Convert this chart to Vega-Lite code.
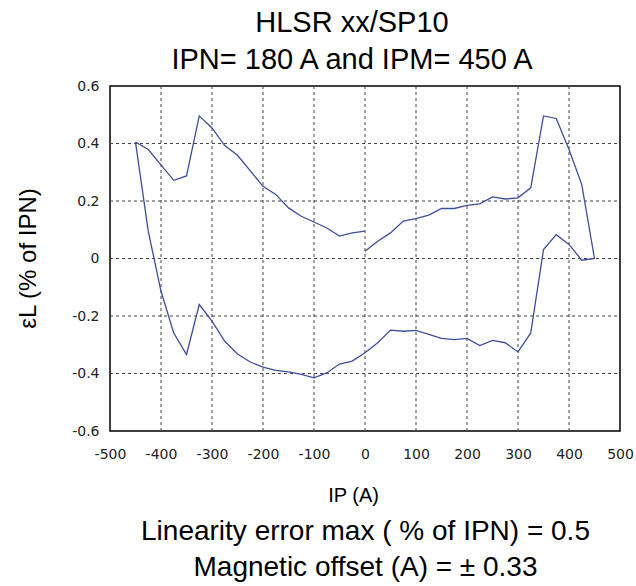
{
  "$schema": "https://vega.github.io/schema/vega-lite/v6.json",
  "width": 510,
  "height": 345,
  "autosize": {"type": "none"},
  "padding": {"left": 110, "top": 86, "right": 16, "bottom": 155},
  "background": "white",
  "title": {
    "text": ["HLSR xx/SP10", "IPN= 180 A and IPM= 450 A"],
    "font": "Liberation Sans",
    "fontSize": 29,
    "fontWeight": "normal",
    "lineHeight": 37,
    "frame": "group",
    "anchor": "middle",
    "dx": -13,
    "offset": 4,
    "color": "#000"
  },
  "config": {
    "view": {"stroke": "#000", "strokeWidth": 1.5},
    "axis": {
      "domain": false,
      "grid": false,
      "ticks": false,
      "tickSize": 0,
      "labelFont": "DejaVu Sans",
      "labelFontSize": 14,
      "labelColor": "#222",
      "titleFont": "Liberation Sans",
      "titleFontWeight": "normal",
      "titleColor": "#000"
    }
  },
  "datasets": {
    "curve": [
      {"I": -450, "e": 0.405, "seg": "a", "k": 0},
      {"I": -425, "e": 0.379, "seg": "a", "k": 1},
      {"I": -375, "e": 0.272, "seg": "a", "k": 2},
      {"I": -350, "e": 0.287, "seg": "a", "k": 3},
      {"I": -325, "e": 0.496, "seg": "a", "k": 4},
      {"I": -300, "e": 0.454, "seg": "a", "k": 5},
      {"I": -275, "e": 0.393, "seg": "a", "k": 6},
      {"I": -250, "e": 0.359, "seg": "a", "k": 7},
      {"I": -200, "e": 0.251, "seg": "a", "k": 8},
      {"I": -175, "e": 0.223, "seg": "a", "k": 9},
      {"I": -150, "e": 0.176, "seg": "a", "k": 10},
      {"I": -125, "e": 0.147, "seg": "a", "k": 11},
      {"I": -100, "e": 0.127, "seg": "a", "k": 12},
      {"I": -75, "e": 0.106, "seg": "a", "k": 13},
      {"I": -50, "e": 0.078, "seg": "a", "k": 14},
      {"I": -25, "e": 0.089, "seg": "a", "k": 15},
      {"I": 0, "e": 0.095, "seg": "a", "k": 16},
      {"I": 0, "e": 0.025, "seg": "b", "k": 0},
      {"I": 25, "e": 0.06, "seg": "b", "k": 1},
      {"I": 50, "e": 0.089, "seg": "b", "k": 2},
      {"I": 75, "e": 0.13, "seg": "b", "k": 3},
      {"I": 100, "e": 0.139, "seg": "b", "k": 4},
      {"I": 125, "e": 0.151, "seg": "b", "k": 5},
      {"I": 150, "e": 0.174, "seg": "b", "k": 6},
      {"I": 175, "e": 0.174, "seg": "b", "k": 7},
      {"I": 200, "e": 0.185, "seg": "b", "k": 8},
      {"I": 225, "e": 0.19, "seg": "b", "k": 9},
      {"I": 250, "e": 0.214, "seg": "b", "k": 10},
      {"I": 275, "e": 0.207, "seg": "b", "k": 11},
      {"I": 300, "e": 0.211, "seg": "b", "k": 12},
      {"I": 325, "e": 0.246, "seg": "b", "k": 13},
      {"I": 350, "e": 0.496, "seg": "b", "k": 14},
      {"I": 375, "e": 0.487, "seg": "b", "k": 15},
      {"I": 400, "e": 0.379, "seg": "b", "k": 16},
      {"I": 425, "e": 0.257, "seg": "b", "k": 17},
      {"I": 450, "e": 0.0, "seg": "b", "k": 18},
      {"I": 425, "e": -0.006, "seg": "b", "k": 19},
      {"I": 400, "e": 0.049, "seg": "b", "k": 20},
      {"I": 375, "e": 0.083, "seg": "b", "k": 21},
      {"I": 350, "e": 0.031, "seg": "b", "k": 22},
      {"I": 325, "e": -0.259, "seg": "b", "k": 23},
      {"I": 300, "e": -0.325, "seg": "b", "k": 24},
      {"I": 275, "e": -0.293, "seg": "b", "k": 25},
      {"I": 250, "e": -0.285, "seg": "b", "k": 26},
      {"I": 225, "e": -0.303, "seg": "b", "k": 27},
      {"I": 200, "e": -0.278, "seg": "b", "k": 28},
      {"I": 175, "e": -0.282, "seg": "b", "k": 29},
      {"I": 150, "e": -0.278, "seg": "b", "k": 30},
      {"I": 125, "e": -0.264, "seg": "b", "k": 31},
      {"I": 100, "e": -0.25, "seg": "b", "k": 32},
      {"I": 75, "e": -0.253, "seg": "b", "k": 33},
      {"I": 50, "e": -0.249, "seg": "b", "k": 34},
      {"I": 25, "e": -0.293, "seg": "b", "k": 35},
      {"I": 0, "e": -0.328, "seg": "b", "k": 36},
      {"I": -25, "e": -0.357, "seg": "b", "k": 37},
      {"I": -50, "e": -0.367, "seg": "b", "k": 38},
      {"I": -75, "e": -0.398, "seg": "b", "k": 39},
      {"I": -100, "e": -0.415, "seg": "b", "k": 40},
      {"I": -125, "e": -0.403, "seg": "b", "k": 41},
      {"I": -150, "e": -0.394, "seg": "b", "k": 42},
      {"I": -175, "e": -0.389, "seg": "b", "k": 43},
      {"I": -200, "e": -0.378, "seg": "b", "k": 44},
      {"I": -225, "e": -0.36, "seg": "b", "k": 45},
      {"I": -250, "e": -0.332, "seg": "b", "k": 46},
      {"I": -275, "e": -0.288, "seg": "b", "k": 47},
      {"I": -300, "e": -0.218, "seg": "b", "k": 48},
      {"I": -325, "e": -0.16, "seg": "b", "k": 49},
      {"I": -350, "e": -0.334, "seg": "b", "k": 50},
      {"I": -375, "e": -0.259, "seg": "b", "k": 51},
      {"I": -400, "e": -0.114, "seg": "b", "k": 52},
      {"I": -425, "e": 0.095, "seg": "b", "k": 53},
      {"I": -450, "e": 0.405, "seg": "b", "k": 54}
    ],
    "xgrid": [
      {"gx": -400, "gy": -0.6, "o": 0}, {"gx": -400, "gy": 0, "o": 1}, {"gx": -400, "gy": 0.6, "o": 2},
      {"gx": -300, "gy": -0.6, "o": 0}, {"gx": -300, "gy": 0, "o": 1}, {"gx": -300, "gy": 0.6, "o": 2},
      {"gx": -200, "gy": -0.6, "o": 0}, {"gx": -200, "gy": 0, "o": 1}, {"gx": -200, "gy": 0.6, "o": 2},
      {"gx": -100, "gy": -0.6, "o": 0}, {"gx": -100, "gy": 0, "o": 1}, {"gx": -100, "gy": 0.6, "o": 2},
      {"gx": 0, "gy": -0.6, "o": 0}, {"gx": 0, "gy": 0, "o": 1}, {"gx": 0, "gy": 0.6, "o": 2},
      {"gx": 100, "gy": -0.6, "o": 0}, {"gx": 100, "gy": 0, "o": 1}, {"gx": 100, "gy": 0.6, "o": 2},
      {"gx": 200, "gy": -0.6, "o": 0}, {"gx": 200, "gy": 0, "o": 1}, {"gx": 200, "gy": 0.6, "o": 2},
      {"gx": 300, "gy": -0.6, "o": 0}, {"gx": 300, "gy": 0, "o": 1}, {"gx": 300, "gy": 0.6, "o": 2},
      {"gx": 400, "gy": -0.6, "o": 0}, {"gx": 400, "gy": 0, "o": 1}, {"gx": 400, "gy": 0.6, "o": 2}
    ],
    "ygrid": [
      {"I": -500, "v": -0.4}, {"I": 500, "v": -0.4},
      {"I": -500, "v": -0.2}, {"I": 500, "v": -0.2},
      {"I": -500, "v": 0}, {"I": 500, "v": 0},
      {"I": -500, "v": 0.2}, {"I": 500, "v": 0.2},
      {"I": -500, "v": 0.4}, {"I": 500, "v": 0.4}
    ]
  },
  "layer": [
    {
      "data": {"name": "ygrid"},
      "mark": {"type": "line", "color": "#444444", "strokeWidth": 1, "strokeDash": [3, 3]},
      "encoding": {
        "x": {"field": "I", "type": "quantitative", "axis": null},
        "y": {"field": "v", "type": "quantitative", "axis": null},
        "detail": {"field": "v"}
      }
    },
    {
      "data": {"name": "xgrid"},
      "mark": {"type": "line", "color": "#444444", "strokeWidth": 1, "strokeDash": [3, 3]},
      "encoding": {
        "x": {"field": "gx", "type": "quantitative", "axis": null},
        "y": {"field": "gy", "type": "quantitative", "axis": null},
        "detail": {"field": "gx"},
        "order": {"field": "o", "type": "quantitative"}
      }
    },
    {
      "data": {"name": "curve"},
      "mark": {"type": "line", "color": "#3d4f9c", "strokeWidth": 1.3},
      "encoding": {
        "x": {
          "field": "I", "type": "quantitative",
          "scale": {"domain": [-500, 500], "nice": false, "zero": false},
          "axis": {
            "orient": "bottom",
            "labelFlush": false,
            "values": [-500, -400, -300, -200, -100, 0, 100, 200, 300, 400, 500],
            "labelExpr": "toString(datum.value)",
            "labelPadding": 16,
            "title": "IP (A)",
            "titleFontSize": 20,
            "titleX": 243,
            "titleY": 64,
            "titleBaseline": "middle"
          }
        },
        "y": {
          "field": "e", "type": "quantitative",
          "scale": {"domain": [-0.6, 0.6], "nice": false, "zero": false},
          "axis": {
            "orient": "left",
            "values": [-0.6, -0.4, -0.2, 0, 0.2, 0.4, 0.6],
            "labelExpr": "toString(datum.value)",
            "labelPadding": 11,
            "title": "εL (% of IPN)",
            "titleFontSize": 24,
            "titleX": -82,
            "titleY": 172,
            "titleBaseline": "middle"
          }
        },
        "detail": {"field": "seg"},
        "order": {"field": "k", "type": "quantitative"}
      }
    },
    {
      "data": {"name": "curve"},
      "mark": {"type": "line", "strokeOpacity": 0},
      "encoding": {
        "x": {
          "field": "I", "type": "quantitative",
          "axis": {
            "orient": "bottom",
            "labels": false,
            "title": ["Linearity error max ( % of IPN) = 0.5", "Magnetic offset (A) = ± 0.33"],
            "titleFontSize": 28,
            "titleLineHeight": 36,
            "titleY": 108,
            "titleBaseline": "alphabetic"
          }
        },
        "y": {"field": "e", "type": "quantitative", "axis": null},
        "detail": {"field": "seg"},
        "order": {"field": "k", "type": "quantitative"}
      }
    }
  ],
  "resolve": {"axis": {"x": "independent", "y": "independent"}}
}
